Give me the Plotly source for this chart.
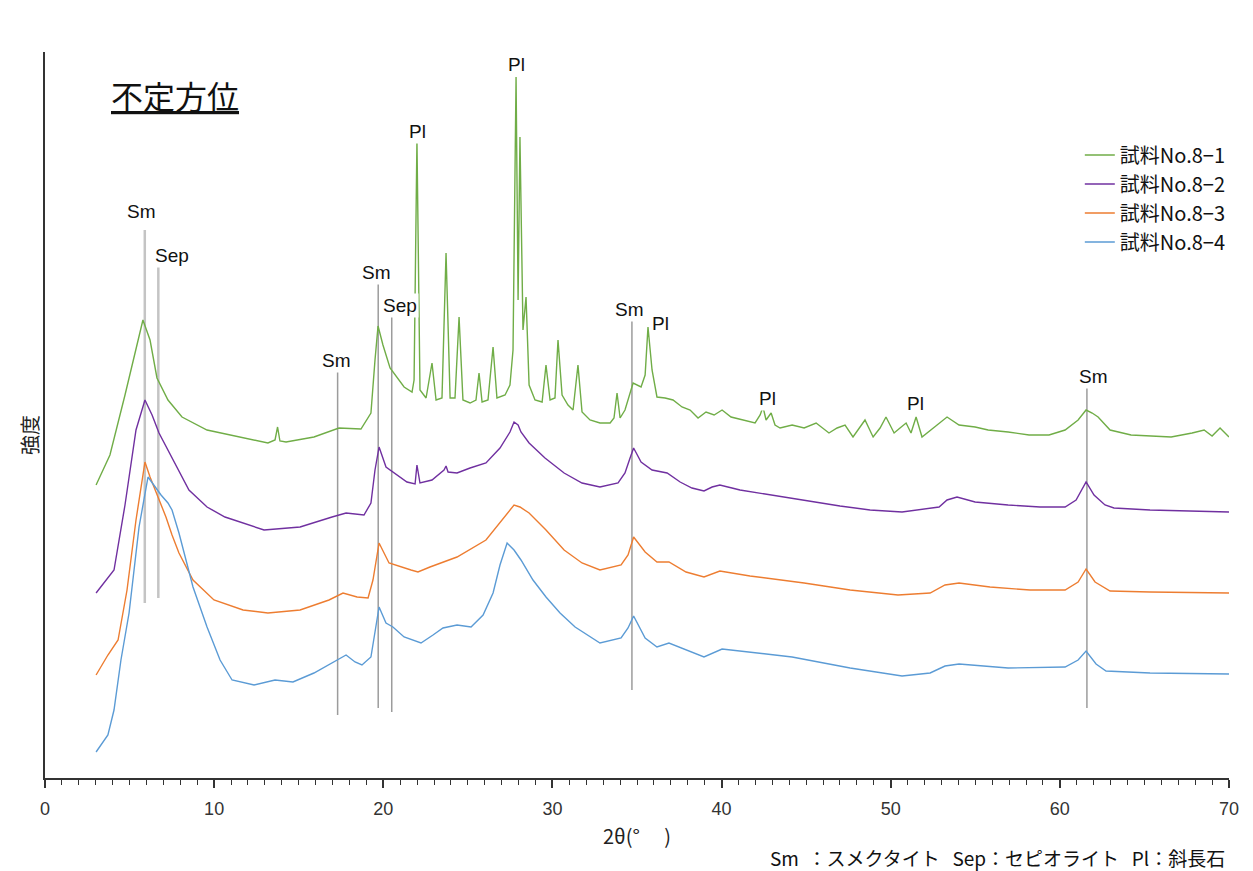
import plotly.graph_objects as go

# ---------------- data (2θ in degrees, intensity in arbitrary units) ----------------
series_names = ["試料No.8−1", "試料No.8−2", "試料No.8−3", "試料No.8−4"]
series_colors = ["#70ad47", "#7030a0", "#ed7d31", "#5b9bd5"]

x_81 = [3.02, 3.84, 4.73, 5.32, 5.79, 6.21, 6.62, 7.27, 8.10, 9.58, 11.71, 13.18, 13.60, 13.75, 13.89,
        14.25, 15.90, 17.38, 18.68, 19.27, 19.51, 19.69, 19.98, 20.40, 21.23, 21.70, 21.82, 21.99, 22.17,
        22.53, 22.88, 23.12, 23.47, 23.71, 23.95, 24.24, 24.48, 24.71, 25.13, 25.48, 25.66, 25.84, 26.19,
        26.49, 26.72, 27.20, 27.49, 27.67, 27.85, 27.97, 28.08, 28.26, 28.44, 28.62, 28.97, 29.39, 29.62,
        29.86, 30.15, 30.33, 30.57, 30.92, 31.22, 31.51, 31.75, 32.22, 32.81, 33.41, 33.64, 33.82, 34.00,
        34.29, 34.77, 35.24, 35.48, 35.65, 35.89, 36.18, 36.66, 37.13, 37.66, 38.14, 38.61, 39.08, 39.56,
        40.03, 40.56, 41.21, 41.98, 42.28, 42.45, 42.63, 42.93, 43.16, 43.46, 44.17, 44.88, 45.59, 46.35,
        46.83, 47.30, 47.77, 48.48, 48.96, 49.37, 49.72, 50.20, 50.55, 50.91, 51.20, 51.50, 51.85, 52.62,
        53.33, 54.04, 54.99, 55.76, 56.94, 58.18, 59.36, 60.31, 61.08, 61.55, 61.91, 62.26, 62.97, 64.21,
        65.33, 66.58, 67.82, 68.53, 69.00, 69.47, 70.00]
y_81 = [293, 323, 383, 426, 458, 438, 400, 378, 361, 348, 340, 335, 338, 351, 337,
        336, 341, 350, 349, 365, 418, 452, 433, 410, 391, 386, 398, 638, 388,
        380, 415, 378, 380, 525, 380, 380, 461, 378, 375, 378, 405, 376, 378,
        431, 380, 383, 393, 428, 701, 478, 641, 448, 481, 393, 378, 376, 413,
        378, 380, 438, 383, 373, 368, 413, 366, 358, 355, 355, 360, 385, 360,
        368, 395, 391, 403, 451, 408, 381, 380, 378, 371, 368, 360, 366, 363,
        368, 361, 358, 355, 363, 371, 358, 365, 353, 350, 353, 350, 355, 345,
        350, 353, 341, 358, 341, 350, 361, 345, 350, 355, 345, 361, 341, 351,
        361, 353, 351, 348, 346, 343, 343, 348, 358, 368, 365, 361, 348, 343,
        342, 341, 345, 348, 342, 350, 341]

x_82 = [3.02, 3.55, 4.08, 4.73, 5.38, 5.91, 6.33, 6.74, 7.27, 8.51, 9.58, 10.64, 12.95, 15.08, 16.97,
        17.80, 18.86, 19.27, 19.51, 19.75, 20.16, 21.40, 21.88, 21.99, 22.17, 22.88, 23.59, 23.71, 23.83,
        24.36, 25.13, 26.07, 26.90, 27.49, 27.73, 27.97, 28.14, 28.62, 29.56, 30.69, 31.75, 32.81, 33.88,
        34.29, 34.59, 34.80, 35.24, 35.89, 36.78, 37.55, 38.25, 38.96, 39.44, 39.90, 41.09, 42.87, 44.88,
        47.00, 48.78, 50.67, 52.86, 53.33, 53.92, 54.99, 56.94, 58.83, 60.31, 60.96, 61.55, 62.02, 62.67,
        63.20, 65.33, 67.70, 70.00]
y_82 = [185, 196, 208, 273, 348, 378, 363, 345, 328, 288, 271, 261, 248, 251, 261,
        265, 263, 275, 308, 331, 311, 296, 294, 313, 295, 298, 308, 312, 306,
        305, 310, 315, 330, 346, 356, 353, 346, 335, 320, 305, 295, 291, 295,
        305, 320, 330, 316, 308, 305, 296, 290, 287, 291, 293, 288, 283, 278,
        272, 268, 266, 271, 278, 281, 276, 273, 271, 271, 278, 296, 283, 273,
        270, 268, 267, 266]

x_83 = [3.02, 3.72, 4.32, 4.85, 5.38, 5.91, 6.21, 6.62, 6.95, 7.15, 7.51, 7.92, 8.75, 9.99, 11.71,
        13.18, 15.08, 16.79, 17.62, 18.45, 19.10, 19.39, 19.75, 20.34, 21.64, 22.05, 22.76, 23.53, 24.36,
        26.07, 26.90, 27.73, 28.08, 28.62, 29.62, 30.69, 31.75, 32.81, 34.06, 34.47, 34.80, 35.48, 36.18,
        36.89, 37.90, 38.96, 39.90, 41.68, 44.88, 47.60, 50.43, 52.33, 53.21, 54.04, 55.87, 58.24, 60.31,
        61.08, 61.55, 62.08, 62.97, 65.33, 70.00]
y_83 = [103, 123, 138, 188, 258, 316, 301, 283, 268, 261, 243, 225, 198, 178, 168,
        165, 168, 178, 185, 181, 180, 198, 235, 215, 208, 206, 211, 216, 221,
        238, 256, 273, 271, 265, 248, 228, 215, 208, 213, 223, 241, 226, 216,
        216, 206, 201, 207, 202, 195, 188, 183, 185, 193, 195, 191, 188, 188,
        196, 209, 196, 187, 186, 185]

x_84 = [3.02, 3.72, 4.08, 4.49, 4.97, 5.56, 6.09, 6.50, 6.86, 7.27, 7.51, 7.92, 8.34, 8.75, 9.58,
        10.35, 11.06, 12.36, 13.60, 14.66, 15.90, 17.21, 17.80, 18.33, 18.74, 19.27, 19.51, 19.75, 20.16,
        20.57, 21.23, 22.23, 22.94, 23.53, 24.36, 25.19, 25.90, 26.49, 26.90, 27.32, 27.73, 28.14, 28.85,
        29.62, 30.45, 31.34, 32.81, 34.06, 34.47, 34.80, 35.48, 36.18, 36.89, 37.90, 38.96, 40.03, 41.68,
        44.17, 47.60, 50.67, 52.33, 53.21, 54.04, 56.94, 60.31, 61.08, 61.55, 62.14, 62.73, 65.33, 70.00]
y_84 = [26, 43, 68, 118, 165, 251, 301, 291, 283, 275, 268, 245, 218, 191, 151,
        118, 98, 93, 98, 96, 105, 118, 123, 116, 113, 121, 148, 171, 155,
        151, 141, 135, 143, 150, 153, 151, 163, 185, 213, 235, 228, 218, 198,
        181, 165, 151, 135, 140, 150, 162, 140, 131, 135, 128, 121, 129, 126,
        121, 110, 102, 105, 112, 114, 110, 111, 118, 127, 114, 107, 105, 104]

# reference (mineral) lines and their labels
ref_pos = [5.9, 6.7, 17.3, 19.7, 20.5, 34.7, 61.6]
ref_top = [548, 513, 406, 495, 465, 460, 390]
ref_bottom = [175, 180, 63, 70, 66, 88, 70]

label_text = ["Sm", "Sep", "Sm", "Sm", "Sep", "Pl", "Pl", "Sm", "Pl", "Pl", "Pl", "Sm"]
label_x = [5.68, 7.51, 17.21, 19.57, 20.99, 22.05, 27.85, 34.53, 36.36, 42.69, 51.44, 61.96]
label_y = [567, 523, 418, 506, 473, 647, 714, 469, 455, 380, 375, 402]

xs = [x_81, x_82, x_83, x_84]
ys = [y_81, y_82, y_83, y_84]

# ---------------- figure ----------------
fig = go.Figure()

for i in range(len(ref_pos)):
    light = i < 2
    fig.add_shape(type="line", xref="x", yref="y",
                  x0=ref_pos[i], x1=ref_pos[i], y0=ref_bottom[i], y1=ref_top[i],
                  line=dict(color="#c4c4c4" if light else "#9c9c9c", width=2.5 if light else 1.5),
                  layer="below")

for name, color, xv, yv in zip(series_names, series_colors, xs, ys):
    fig.add_trace(go.Scatter(x=xv, y=yv, mode="lines", name=name,
                             line=dict(color=color, width=1.4), legendgroup=name))

for t, lx, ly in zip(label_text, label_x, label_y):
    fig.add_annotation(x=lx, y=ly, xref="x", yref="y", text=t, showarrow=False,
                       xanchor="center", yanchor="middle",
                       font=dict(family="Liberation Sans, Arial", size=19, color="#111111"),
                       bgcolor="white", borderpad=1)

CJK = "Noto Sans CJK JP"

# page body has an 8px margin, so the figure is sized/margined to land on the reference pixels
fig.add_annotation(x=0.1098, y=0.9408, xref="paper", yref="paper", text="<u>不定方位</u>",
                   xanchor="center", yanchor="middle",
                   showarrow=False, font=dict(family=CJK, size=32, color="#111111"))

fig.add_annotation(x=-0.0127, y=0.4725, xref="paper", yref="paper", text="強度", textangle=-90,
                   xanchor="center", yanchor="middle",
                   showarrow=False, font=dict(family=CJK, size=20, color="#222222"))

fig.add_annotation(x=0.6106, y=-0.110, xref="paper", yref="paper", xanchor="left", yanchor="middle",
                   text="Sm  ：スメクタイト   Sep：セピオライト   Pl：斜長石",
                   showarrow=False, font=dict(family=CJK, size=19, color="#111111"))

fig.update_layout(
    width=1245, height=863,
    margin=dict(l=37, r=24, t=44, b=93),
    paper_bgcolor="white", plot_bgcolor="white",
    showlegend=True,
    legend=dict(x=0.874, y=0.885, xanchor="left", yanchor="top",
                font=dict(family=CJK, size=20, color="#111111"),
                bgcolor="rgba(0,0,0,0)", tracegroupgap=0),
    xaxis=dict(range=[0, 70], showgrid=False, zeroline=False,
               showline=True, linecolor="#333333", linewidth=2,
               ticks="outside", dtick=10, tick0=0, ticklen=8, tickwidth=1.5, tickcolor="#333333",
               minor=dict(dtick=1, ticks="outside", ticklen=5, tickwidth=1, tickcolor="#333333"),
               tickfont=dict(family="Liberation Sans, Arial", size=18, color="#333333"),
               ticklabelstandoff=5,
               title=dict(text="2θ(°　 )", font=dict(family=CJK, size=20, color="#222222"),
                          standoff=12)),
    yaxis=dict(range=[0, 726], showgrid=False, zeroline=False, showline=True,
               linecolor="#333333", linewidth=2, showticklabels=False, ticks=""),
)

fig.write_html("out.html")
